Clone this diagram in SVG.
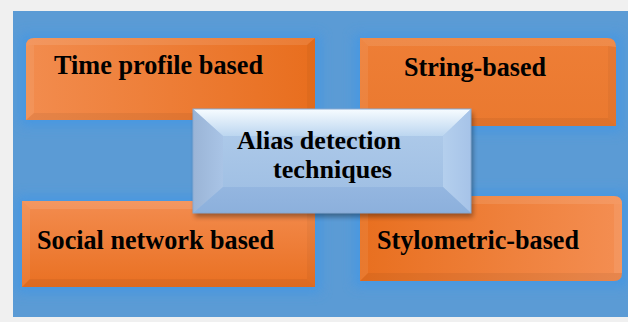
<svg xmlns="http://www.w3.org/2000/svg" width="628" height="322" viewBox="0 0 628 322">
<defs>
<style>
.lbl{font-family:"Liberation Serif","Times New Roman",serif;font-weight:bold;font-size:28px;fill:#000}
.ctr{font-size:26px}
.glow{fill:#3f96e6;opacity:0.7;filter:url(#blur)}
.hiT{fill:#fff;opacity:0.10}
.hiL{fill:#fff;opacity:0.07}
.shR{fill:#000;opacity:0.035}
.shB{fill:#000;opacity:0.05}
</style>
<clipPath id="bgclip"><rect x="13" y="11" width="615" height="306"/></clipPath>
<filter id="blur" x="-20%" y="-30%" width="140%" height="160%"><feGaussianBlur stdDeviation="6"/></filter>
<filter id="shadow" x="-10%" y="-10%" width="120%" height="130%"><feGaussianBlur stdDeviation="2.5"/></filter>
<linearGradient id="gTL" x1="0" y1="0" x2="1" y2="0"><stop offset="0" stop-color="#f28c4e"/><stop offset="1" stop-color="#e86e1e"/></linearGradient>
<linearGradient id="gTR" x1="0" y1="0" x2="0" y2="1"><stop offset="0" stop-color="#ee7e36"/><stop offset="1" stop-color="#ea792f"/></linearGradient>
<linearGradient id="gBL" x1="0" y1="0" x2="0" y2="1"><stop offset="0" stop-color="#f38c4f"/><stop offset="1" stop-color="#e97022"/></linearGradient>
<linearGradient id="gBR" x1="0" y1="0" x2="1" y2="0"><stop offset="0" stop-color="#e86f1f"/><stop offset="1" stop-color="#f48e52"/></linearGradient>
<linearGradient id="cTop" x1="0" y1="0" x2="0" y2="1"><stop offset="0" stop-color="#f7fcff"/><stop offset="1" stop-color="#bcd6f0"/></linearGradient>
<linearGradient id="cFace" x1="0" y1="0" x2="0" y2="1"><stop offset="0" stop-color="#b2cdeb"/><stop offset="1" stop-color="#9bbce2"/></linearGradient>
<linearGradient id="cLeft" x1="0" y1="0" x2="1" y2="0"><stop offset="0" stop-color="#9ab4d6"/><stop offset="1" stop-color="#a9c4e6"/></linearGradient>
<linearGradient id="cRight" x1="0" y1="0" x2="1" y2="0"><stop offset="0" stop-color="#b4cfed"/><stop offset="1" stop-color="#a6c3e8"/></linearGradient>
<linearGradient id="cBot" x1="0" y1="0" x2="0" y2="1"><stop offset="0" stop-color="#94b6e0"/><stop offset="1" stop-color="#8cb0dc"/></linearGradient>
</defs>

<rect x="0" y="0" width="628" height="322" fill="#f0f0f0"/>
<rect x="13" y="11" width="615" height="306" fill="#5b9bd5"/>
<g clip-path="url(#bgclip)">
<rect class="glow" x="20" y="34" width="301" height="92"/>
<rect class="glow" x="354" y="34" width="268" height="98"/>
<rect class="glow" x="16" y="196" width="305" height="97"/>
<rect class="glow" x="354" y="191" width="274" height="96"/>
</g>

<g id="connectors"/>

<g id="node-time-profile">
<path d="M26,46 Q26,38 34,38 H315 V120 H26 Z" fill="url(#gTL)"/>
<path d="M26,46 Q26,38 34,38 H315 L307,45 H34 Z" class="hiT"/>
<path d="M26,46 L34,45 V113 L26,120 Z" class="hiL"/>
<path d="M315,38 V120 L307,113 V45 Z" class="shR"/>
<path d="M26,120 H315 L307,113 H34 Z" class="shB"/>
<text class="lbl" x="54" y="74" textLength="209" lengthAdjust="spacingAndGlyphs">Time profile based</text>
</g>

<g id="node-string">
<path d="M360,38 H607 Q616,38 616,47 V126 H360 Z" fill="url(#gTR)"/>
<path d="M360,38 H607 Q616,38 616,47 L608,46 H368 Z" class="hiT"/>
<path d="M360,38 L368,46 V118 L360,126 Z" class="hiL"/>
<path d="M616,47 V126 L608,118 V46 Z" class="shR"/>
<path d="M360,126 H616 L608,118 H368 Z" class="shB"/>
<text class="lbl" x="404" y="76" textLength="142" lengthAdjust="spacingAndGlyphs">String-based</text>
</g>

<g id="node-social">
<rect x="22" y="201" width="293" height="86" fill="url(#gBL)"/>
<path d="M22,201 H315 L307,209 H30 Z" class="hiT"/>
<path d="M22,201 L30,209 V279 L22,287 Z" class="hiL"/>
<path d="M315,201 V287 L307,279 V209 Z" class="shR"/>
<path d="M22,287 H315 L307,279 H30 Z" class="shB"/>
<text class="lbl" x="37" y="249" textLength="237" lengthAdjust="spacingAndGlyphs">Social network based</text>
</g>

<g id="node-stylometric">
<path d="M360,196 H614 Q622,196 622,204 V273 Q622,281 614,281 H360 Z" fill="url(#gBR)"/>
<path d="M360,196 H614 Q622,196 622,204 L614,204 H368 Z" class="hiT"/>
<path d="M360,196 L368,204 V273 L360,281 Z" class="hiL"/>
<path d="M622,204 V273 L614,273 V204 Z" fill="#fff" opacity="0.08"/>
<path d="M360,281 H614 Q622,281 622,273 H368 Z" class="shB"/>
<text class="lbl" x="377" y="249" textLength="202" lengthAdjust="spacingAndGlyphs">Stylometric-based</text>
</g>

<g id="node-center">
<rect x="195" y="113" width="278" height="104" fill="#000" opacity="0.35" filter="url(#shadow)"/>
<rect x="193" y="109" width="278" height="104" fill="url(#cFace)"/>
<path d="M193,109 H471 L443,136 H223 Z" fill="url(#cTop)"/>
<path d="M193,109 L223,136 V187 L193,213 Z" fill="url(#cLeft)"/>
<path d="M471,109 V213 L443,187 V136 Z" fill="url(#cRight)"/>
<path d="M193,213 H471 L443,187 H223 Z" fill="url(#cBot)"/>
<rect x="193" y="109" width="278" height="104" fill="none" stroke="#86a9d3" stroke-width="1"/>
<text class="lbl ctr" x="237" y="149" textLength="164" lengthAdjust="spacingAndGlyphs">Alias detection</text>
<text class="lbl ctr" x="273" y="178" textLength="119" lengthAdjust="spacingAndGlyphs">techniques</text>
</g>
</svg>
